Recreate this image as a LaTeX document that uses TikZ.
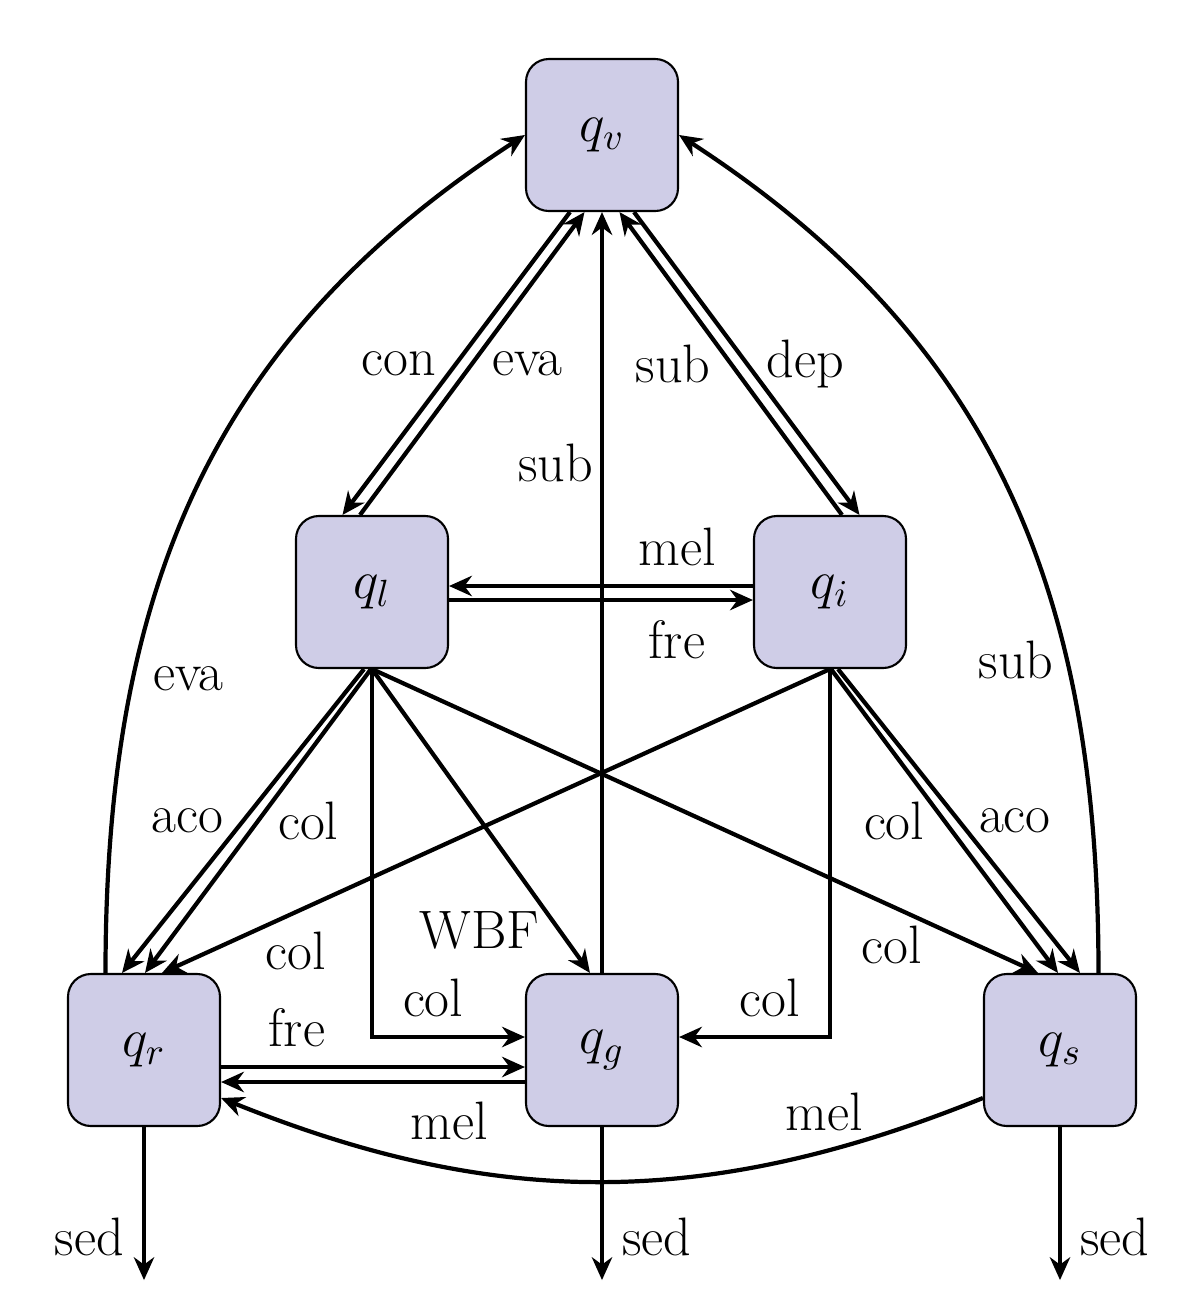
\documentclass[tikz,border=0pt]{standalone}
\usepackage{fix-cm}
\usetikzlibrary{arrows.meta,positioning}
\definecolor{boxfill}{RGB}{207,205,231}
\tikzset{
  qbox/.style={draw, line width=0.6pt, fill=boxfill, rounded corners=6.5pt,
    minimum width=1.52cm, minimum height=1.52cm, inner sep=0pt},
  flow/.style={draw, line width=1.2pt, -{Stealth[length=6.5pt,width=5.8pt]}},
}
\begin{document}
\begin{tikzpicture}
\fontsize{15.4pt}{18pt}\selectfont
\useasboundingbox (0,0) rectangle (12,-13.1);
% species
\node[qbox] (qv) at (6.02,-1.35) {$q_v$};
\node[qbox] (ql) at (3.72,-5.92) {$q_l$};
\node[qbox] (qi) at (8.30,-5.92) {$q_i$};
\node[qbox] (qr) at (1.44,-10.50) {$q_r$};
\node[qbox] (qg) at (6.02,-10.50) {$q_g$};
\node[qbox] (qs) at (10.60,-10.50) {$q_s$};
\coordinate[below=1.53cm of qr] (sedr);
\coordinate[below=1.53cm of qg] (sedg);
\coordinate[below=1.53cm of qs] (seds);
% vapour
\path[flow] ([xshift=-3.2mm]qv.south) -- node[left]{con} ([xshift=-2.95mm]ql.north);
\path[flow] ([xshift=-1.2mm]ql.north) -- node[right]{eva} ([xshift=-1.75mm]qv.south);
\path[flow] ([xshift=1.2mm]qi.north) -- node[left]{sub} ([xshift=1.75mm]qv.south);
\path[flow] ([xshift=3.2mm]qv.south) -- node[right]{dep} ([xshift=2.95mm]qi.north);
\path[flow] (qg.north) -- node[pos=0.67,left,inner sep=2pt]{sub} (qv.south);
\path[flow] ([xshift=-3.85mm]qr.north) to[out=90,in=213,looseness=1.03]
  node[pos=0.285,right=0pt]{eva} (qv.west);
\path[flow] ([xshift=3.85mm]qs.north) to[out=90,in=-33,looseness=1.03]
  node[pos=0.305,left=-2pt]{sub} (qv.east);
% liquid and ice
\path[flow] ([yshift=0.6mm]qi.west) -- node[pos=0.25,above]{mel} ([yshift=0.6mm]ql.east);
\path[flow] ([yshift=-0.8mm]ql.east) -- node[pos=0.75,below]{fre} ([yshift=-0.8mm]qi.west);
\path[flow] ([xshift=-0.8mm]ql.south) -- node[left]{aco} ([xshift=-2.2mm]qr.north);
\path[flow] ([xshift=-0.1mm]ql.south) -- node[right]{col} ([xshift=0.1mm]qr.north);
\path[flow] (ql.south) -- node[pos=0.86,left]{WBF} ([xshift=-1.2mm]qg.north);
\path[flow] (ql.south) -- node[pos=0.78,below]{col} ([xshift=-2.2mm]qs.north);
\path[flow] (ql.south) |- node[pos=0.7,above]{col} ([yshift=1.3mm]qg.west);
\path[flow] ([xshift=0.8mm]qi.south) -- node[right]{aco} ([xshift=2.0mm]qs.north);
\path[flow] ([xshift=0.1mm]qi.south) -- node[left]{col} ([xshift=-0.2mm]qs.north);
\path[flow] (qi.south) -- node[pos=0.8,below]{col} ([xshift=1.8mm]qr.north);
\path[flow] (qi.south) |- node[pos=0.7,above]{col} ([yshift=1.3mm]qg.east);
% rain, graupel, snow
\path[flow] ([yshift=-1.7mm]qr.east) -- node[pos=0.25,above]{fre} ([yshift=-1.7mm]qg.west);
\path[flow] ([yshift=-3.2mm]qg.west) -- node[pos=0.25,below]{mel} ([yshift=-3.2mm]qr.east);
\path[flow] ([yshift=-4.8mm]qs.west) to[bend left=22] node[pos=0.2,above]{mel} ([yshift=-4.8mm]qr.east);
% sedimentation
\path[flow] (qr.south) -- node[pos=0.72,left]{sed} (sedr);
\path[flow] (qg.south) -- node[pos=0.72,right]{sed} (sedg);
\path[flow] (qs.south) -- node[pos=0.72,right]{sed} (seds);
\end{tikzpicture}
\end{document}
